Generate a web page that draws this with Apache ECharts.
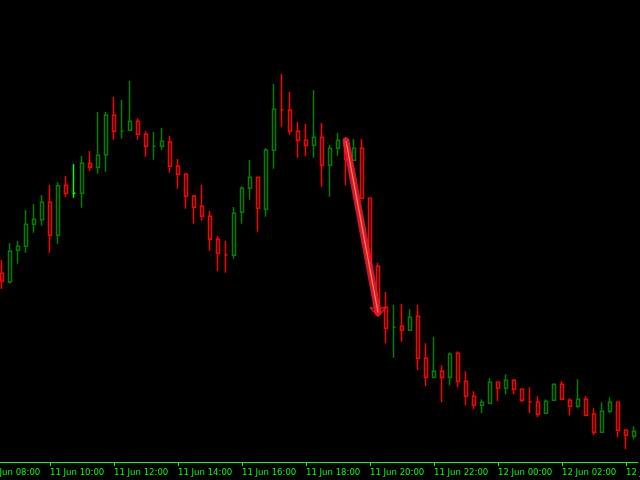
<!DOCTYPE html>
<html>
<head>
<meta charset="utf-8">
<script src="https://cdn.jsdelivr.net/npm/echarts@6/dist/echarts.min.js"></script>
<style>
html,body{margin:0;padding:0;background:#000;}
#chart{width:640px;height:480px;}
</style>
</head>
<body>
<div id="chart"></div>
<script>
// Axis slots (two leading empty 15-minute slots before the first visible candle)
const leadTimes = ['11 Jun 08:00', '11 Jun 08:15'];
const candleTimes = [
  '11 Jun 08:30','11 Jun 08:45','11 Jun 09:00','11 Jun 09:15','11 Jun 09:30','11 Jun 09:45',
  '11 Jun 10:00','11 Jun 10:15','11 Jun 10:30','11 Jun 10:45','11 Jun 11:00','11 Jun 11:15','11 Jun 11:30','11 Jun 11:45',
  '11 Jun 12:00','11 Jun 12:15','11 Jun 12:30','11 Jun 12:45','11 Jun 13:00','11 Jun 13:15','11 Jun 13:30','11 Jun 13:45',
  '11 Jun 14:00','11 Jun 14:15','11 Jun 14:30','11 Jun 14:45','11 Jun 15:00','11 Jun 15:15','11 Jun 15:30','11 Jun 15:45',
  '11 Jun 16:00','11 Jun 16:15','11 Jun 16:30','11 Jun 16:45','11 Jun 17:00','11 Jun 17:15','11 Jun 17:30','11 Jun 17:45',
  '11 Jun 18:00','11 Jun 18:15','11 Jun 18:30','11 Jun 18:45','11 Jun 19:00','11 Jun 19:15','11 Jun 19:30','11 Jun 19:45',
  '11 Jun 20:00','11 Jun 20:15','11 Jun 20:30','11 Jun 20:45','11 Jun 21:00','11 Jun 21:15','11 Jun 21:30','11 Jun 21:45',
  '11 Jun 22:00','11 Jun 22:15','11 Jun 22:30','11 Jun 22:45','11 Jun 23:00','11 Jun 23:15','11 Jun 23:30','11 Jun 23:45',
  '12 Jun 00:00','12 Jun 00:15','12 Jun 00:30','12 Jun 00:45','12 Jun 01:00','12 Jun 01:15','12 Jun 01:30','12 Jun 01:45',
  '12 Jun 02:00','12 Jun 02:15','12 Jun 02:30','12 Jun 02:45','12 Jun 03:00','12 Jun 03:15','12 Jun 03:30','12 Jun 03:45',
  '12 Jun 04:00','12 Jun 04:15'
];
const tickLabels = ['11 Jun 08:00','11 Jun 10:00','11 Jun 12:00','11 Jun 14:00','11 Jun 16:00','11 Jun 18:00',
  '11 Jun 20:00','11 Jun 22:00','12 Jun 00:00','12 Jun 02:00','12 Jun 04:00'];

// OHLC values (chart points)
const opens = [188.7,180.3,211.7,215.7,237.7,242.3,259.7,226.7,276.7,268.7,
  268.7,298.7,294.7,307.3,346.7,331,331.7,340.7,327.7,315.7,
  315.7,320,295.7,287.7,265.7,255.7,245.7,222.7,207.3,206.7,
  249.7,273.7,284.7,252.7,311.7,352.3,351.7,330.7,321.7,316.7,
  324.7,296.7,313.7,321.7,301.7,313.7,263.7,195.7,154.7,134.7,
  135.7,131.7,145.7,103.7,84.7,90.7,84.7,108.7,80.7,65.7,
  56.7,58.7,79.7,73.7,81.7,72.7,60.3,59.7,48.7,61.7,
  77.7,61.7,55.7,62.7,47.7,29.7,50.7,59.7,31.7,25.7];
const closes = [181,210.7,215.7,237.7,242.7,259.7,226.7,276.3,268.7,268.7,
  298.7,294.7,306.7,346.7,330.7,331,340.7,327.7,315.7,315.7,
  320.7,295.7,287.7,265.7,254.7,245.7,222.7,208.7,207.3,248.7,
  273.7,284.7,253.7,311.7,352.7,352.3,330.7,321.7,316.7,324.7,
  296.7,313.7,321.7,302.7,313.7,263.7,195.7,157,133.7,134.7,
  131.7,144.7,103.7,84.7,90.7,84.7,107.7,80.7,65.7,56.7,
  59.7,79.7,73.7,81.7,72.7,61.7,60.3,47.7,60.7,77.7,
  62.7,55.7,62.7,46.7,29.7,50.7,59.7,31.7,26.7,30.7];
const lows = [173,178.3,198.3,209.3,229.3,236.3,209.3,218.3,265.3,264.3,
  254.3,291,288.3,290.3,322.3,323.3,331.7,322.3,305.3,302.3,
  312.3,289.3,273.3,253.3,238.3,241.3,211.3,191.3,189.3,203.3,
  238.3,262.3,230.3,245.3,293.3,335.3,327.3,304.3,306.3,304.3,
  275.3,265.3,306.3,276.7,301.7,263.7,194.7,150,118.7,104.3,
  120.3,131.7,91.7,75.7,83.7,59.7,76.7,74.7,56.7,52.7,
  48.7,57.7,60.7,67.7,67.7,59.7,48.7,44.7,47.7,61.7,
  61.7,46.7,53.7,45.7,26.7,29.7,48.7,24.7,12.7,22.7];
const highs = [202,219,221,252,258,267,277,279.7,286,298,
  306,311,350,350,365,362,381,343.7,330.7,330,
  334,326,303,288.7,267,277,251,225.7,221,255,
  275.7,302,284.7,314,378,388,370,340,338,372,
  339,317,329,325,323,323,263.7,199.3,170,157,
  158,152.7,157,118.7,124.7,96.7,109.7,110.7,90.7,70.7,
  62.7,83.7,79.7,87.7,82.7,72.7,74.7,65.7,62.7,77.7,
  80.7,63.7,82.7,65.7,53.7,59.7,64.7,59.7,32.7,35.7];

// Arrow annotation: from/to (time, value)
const arrowFrom = ['11 Jun 19:15', 321];
const arrowTo = ['11 Jun 20:15', 149.7];

const GREEN = '#008000';
const RED = '#ff0000';
const LIME = '#00ff00';
const AXIS_GREEN = '#00ff00';
const limeDoji = ['11 Jun 10:45'];

const axisTimes = leadTimes.concat(candleTimes);
const candleData = leadTimes.map(() => '-').concat(candleTimes.map((t, i) => {
  const item = { value: [opens[i], closes[i], lows[i], highs[i]] };
  if (limeDoji.indexOf(t) >= 0) {
    item.itemStyle = { borderColor: LIME, borderColor0: LIME };
  }
  return item;
}));

const isTick = (idx, val) => tickLabels.indexOf(val) >= 0;
const hollowDownTriangle = 'path://M0,0 L18,0 L9,10 Z M2.8,1.3 L9,8 L15.2,1.3 Z';

const chart = echarts.init(document.getElementById('chart'), null, { renderer: 'canvas' });
chart.setOption({
  backgroundColor: '#000000',
  animation: false,
  grid: { left: -18, right: 2, top: 0, bottom: 18, containLabel: false, outerBoundsMode: 'none' },
  xAxis: {
    type: 'category',
    data: axisTimes,
    boundaryGap: true,
    axisLine: { show: true, lineStyle: { color: AXIS_GREEN, width: 1 } },
    axisTick: { show: true, alignWithLabel: true, interval: isTick, length: 4, lineStyle: { color: AXIS_GREEN } },
    axisLabel: {
      show: true, interval: isTick, color: AXIS_GREEN, align: 'left',
      fontFamily: '"DejaVu Sans Condensed", "DejaVu Sans", sans-serif', fontSize: 9.5, margin: 6, hideOverlap: false
    },
    splitLine: { show: false }
  },
  yAxis: {
    type: 'value', min: 0, max: 462, show: false, splitLine: { show: false }
  },
  series: [{
    type: 'candlestick',
    data: candleData,
    barWidth: 4,
    itemStyle: {
      color: '#000000', color0: '#000000',
      borderColor: GREEN, borderColor0: RED, borderWidth: 1.5
    },
    markLine: {
      silent: true,
      animation: false,
      label: { show: false },
      symbol: ['none', 'none'],
      data: [
        [
          { coord: arrowFrom, symbol: 'none', lineStyle: { color: '#e0204a', width: 7, opacity: 0.85, cap: 'round', type: 'solid' } },
          { coord: arrowTo, symbol: 'none' }
        ],
        [
          { coord: arrowFrom, symbol: 'none', lineStyle: { color: '#ff1010', width: 3, opacity: 1, cap: 'round', type: 'solid' } },
          { coord: arrowTo, symbol: hollowDownTriangle, symbolSize: [18, 10], symbolRotate: 0 }
        ],
        [
          { coord: arrowFrom, symbol: 'none', lineStyle: { color: '#ff9a60', width: 1, opacity: 1, type: 'solid' } },
          { coord: arrowTo, symbol: 'none' }
        ]
      ]
    }
  }]
});
</script>
</body>
</html>
